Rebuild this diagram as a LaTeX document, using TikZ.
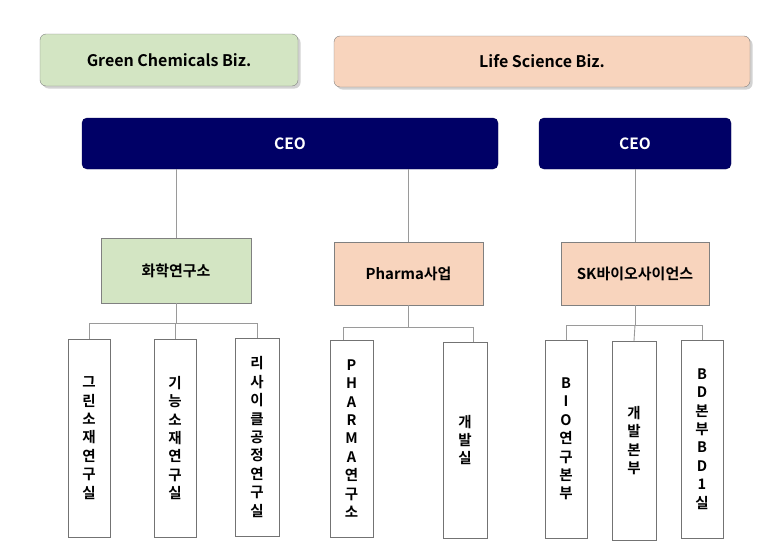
\documentclass[tikz,border=0pt]{standalone}
\usepackage{fontspec}
\setmainfont{Noto Sans CJK KR}[BoldFont={Noto Sans CJK KR Bold}]
\usetikzlibrary{shadows}
\definecolor{grn}{HTML}{D3E5C3}
\definecolor{pch}{HTML}{F8D4BD}
\definecolor{navy}{HTML}{000066}
\definecolor{edge}{HTML}{808080}
\definecolor{lin}{HTML}{9A9A9A}
\tikzset{
  biz/.style={draw=edge, rounded corners=6pt, inner sep=0pt, font=\bfseries\fontsize{16}{18}\selectfont,
    drop shadow={shadow xshift=2.5pt, shadow yshift=-2.5pt, fill=black!35, opacity=0.5}},
  ceo/.style={draw=navy!80!black, fill=navy, rounded corners=5pt, inner sep=0pt, text=white, font=\bfseries\fontsize{15.5}{17}\selectfont},
  unit/.style={draw=edge, inner sep=0pt, font=\bfseries\fontsize{15}{17}\selectfont},
  team/.style={draw=edge!90!black, fill=white, inner sep=0pt, align=center, font=\bfseries\fontsize{14.5}{18.4}\selectfont},
  conn/.style={draw=lin, line width=0.9pt}
}
\begin{document}
\begin{tikzpicture}[x=1pt,y=-1pt]
\useasboundingbox (0,0) rectangle (780,546);
% top business boxes
\node[biz, fill=grn, minimum width=258pt, minimum height=52pt] (green) at (169,60) {Green Chemicals Biz.};
\node[biz, fill=pch, minimum width=416pt, minimum height=51pt] (life) at (542,61.5) {Life Science Biz.};
% CEOs
\node[ceo, minimum width=416pt, minimum height=51pt] (ceo1) at (290,143.5) {CEO};
\node[ceo, minimum width=192pt, minimum height=51pt] (ceo2) at (635,143.5) {CEO};
% units
\node[unit, fill=grn, minimum width=150pt, minimum height=65pt] (chem) at (176,270.5) {화학연구소};
\node[unit, fill=pch, minimum width=149pt, minimum height=63pt] (pharma) at (408.5,273.5) {Pharma사업};
\node[unit, fill=pch, minimum width=148pt, minimum height=63pt] (sk) at (635,273.5) {SK바이오사이언스};
% teams
\node[team, minimum width=42pt, minimum height=198pt] (c1) at (89,438) {그\\린\\소\\재\\연\\구\\실};
\node[team, minimum width=42pt, minimum height=198pt] (c2) at (175,438) {기\\능\\소\\재\\연\\구\\실};
\node[team, minimum width=44pt, minimum height=198pt] (c3) at (257,437) {리\\사\\이\\클\\공\\정\\연\\구\\실};
\node[team, minimum width=43pt, minimum height=197pt] (p1) at (351.5,438.5) {P\\H\\A\\R\\M\\A\\연\\구\\소};
\node[team, minimum width=44pt, minimum height=196pt] (p2) at (465,440) {개\\발\\실};
\node[team, minimum width=42pt, minimum height=198pt] (s1) at (566,439) {B\\I\\O\\연\\구\\본\\부};
\node[team, minimum width=44pt, minimum height=199pt] (s2) at (634,440.5) {개\\발\\본\\부};
\node[team, minimum width=42pt, minimum height=198pt] (s3) at (702,439) {B\\D\\본\\부\\B\\D\\1\\실};
% CEO to units
\draw[conn] (chem.north |- ceo1.south) -- (chem.north);
\draw[conn] (pharma.north |- ceo1.south) -- (pharma.north);
\draw[conn] (ceo2.south) -- (sk.north);
% unit buses
\coordinate (bc) at (176,323);
\coordinate (bp) at (408.5,327);
\coordinate (bs) at (635,325);
\coordinate (pl) at (343,327);
\coordinate (pr) at (473,327);
\draw[conn] (chem.south) -- (bc);
\draw[conn] (bc) -| (c1.north);
\draw[conn] (bc) -| (c3.north);
\draw[conn] (bc) -- (c2.north |- bc) -- (c2.north);
\draw[conn] (pharma.south) -- (bp);
\draw[conn] (bp) -- (pl) -- (pl |- p1.north);
\draw[conn] (bp) -- (pr) -- (pr |- p2.north);
\draw[conn] (sk.south) -- (bs);
\draw[conn] (bs) -| (s1.north);
\draw[conn] (bs) -| (s3.north);
\draw[conn] (bs) -- (s2.north);
\end{tikzpicture}
\end{document}
